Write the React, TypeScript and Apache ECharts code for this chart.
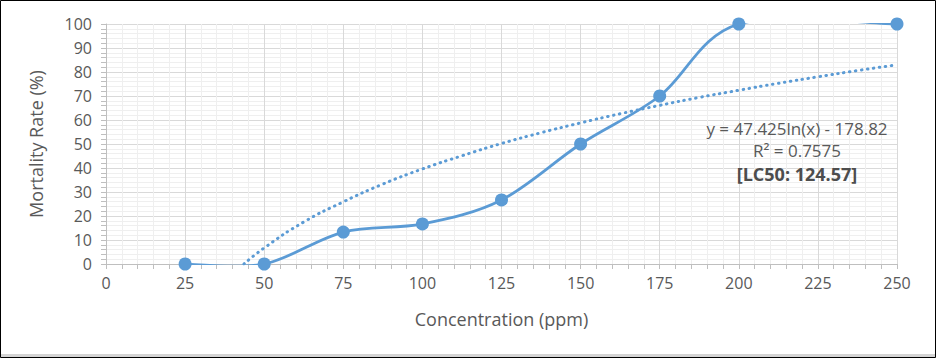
import React, { useEffect, useRef } from "react";
import * as echarts from "echarts";

const concentrations = [25, 50, 75, 100, 125, 150, 175, 200, 250];
const mortality = [0, 0, 13.3, 16.7, 26.7, 50, 70, 100, 100];

const trendX = [43.6, 50, 62.5, 75, 87.5, 100, 112.5, 125, 137.5, 150, 162.5, 175, 187.5, 200, 212.5, 225, 237.5, 250];
const trendY = [0, 6.7, 17.5, 25.9, 33.3, 39.6, 45.1, 50.2, 54.7, 58.8, 62.6, 66.1, 69.4, 72.4, 75.3, 78.0, 80.6, 83.0];

const annotationLines = ["y = 47.425ln(x) - 178.82", "R² = 0.7575", "[LC50: 124.57]"];

const BLUE = "#5B9BD5";
const TEXT = "#595959";
const FONT = "'Open Sans', 'Noto Sans', sans-serif";

export default function App() {
  const ref = useRef<HTMLDivElement>(null);
  useEffect(() => {
    if (!ref.current) return;
    const chart = echarts.init(ref.current, null, { renderer: "svg" });
    const points = concentrations.map((x, i) => [x, mortality[i]]);
    const n = points.length;

    const renderSegment = (params: any, api: any) => {
      const i = params.dataIndex;
      if (i >= n - 1) return null;
      const c = (k: number) => api.coord(points[Math.max(0, Math.min(n - 1, k))]);
      const p0 = c(i - 1);
      const p1 = c(i);
      const p2 = c(i + 1);
      const p3 = c(i + 2);
      const t = 1 / 6;
      const cs = params.coordSys;
      const m = 1;
      return {
        type: "group",
        clipPath: { type: "rect", shape: { x: cs.x - m, y: cs.y - m, width: cs.width + 2 * m, height: cs.height + 2 * m } },
        children: [
          {
            type: "bezierCurve",
            shape: {
              x1: p1[0],
              y1: p1[1],
              cpx1: p1[0] + (p2[0] - p0[0]) * t,
              cpy1: p1[1] + (p2[1] - p0[1]) * t,
              cpx2: p2[0] - (p3[0] - p1[0]) * t,
              cpy2: p2[1] - (p3[1] - p1[1]) * t,
              x2: p2[0],
              y2: p2[1],
            },
            style: { stroke: BLUE, lineWidth: 2.75, fill: "none", lineCap: "round" },
          },
        ],
      };
    };

    chart.setOption({
      animation: false,
      backgroundColor: "#ffffff",
      textStyle: { fontFamily: FONT },
      grid: { left: 106, right: 39, top: 24, bottom: 95, containLabel: false },
      xAxis: {
        type: "value",
        min: 0,
        max: 250,
        interval: 25,
        name: "Concentration (ppm)",
        nameLocation: "middle",
        nameGap: 46,
        nameTextStyle: { color: TEXT, fontSize: 18, fontFamily: FONT },
        axisLine: { show: true, onZero: false, lineStyle: { color: "#BFBFBF", width: 1 } },
        axisTick: { show: true, length: 5, lineStyle: { color: "#BFBFBF" } },
        minorTick: { show: true, splitNumber: 5, length: 5, lineStyle: { color: "#BFBFBF" } },
        axisLabel: { color: TEXT, fontSize: 16, margin: 11, fontFamily: FONT },
        splitLine: { show: true, lineStyle: { color: "#D9D9D9", width: 1 } },
        minorSplitLine: { show: true, lineStyle: { color: "#EFEFEF", width: 1 } },
      },
      yAxis: {
        type: "value",
        min: 0,
        max: 100,
        interval: 10,
        name: "Mortality Rate (%)",
        nameLocation: "middle",
        nameGap: 61,
        nameRotate: 90,
        nameTextStyle: { color: TEXT, fontSize: 18, fontFamily: FONT },
        axisLine: { show: true, lineStyle: { color: "#BFBFBF", width: 1 } },
        axisTick: { show: true, length: 5, lineStyle: { color: "#BFBFBF" } },
        minorTick: { show: true, splitNumber: 5, length: 5, lineStyle: { color: "#BFBFBF" } },
        axisLabel: { color: TEXT, fontSize: 16, margin: 14, fontFamily: FONT },
        splitLine: { show: true, lineStyle: { color: "#D9D9D9", width: 1 } },
        minorSplitLine: { show: true, lineStyle: { color: "#EFEFEF", width: 1 } },
      },
      series: [
        {
          type: "line",
          name: "trend",
          data: trendX.map((x, i) => [x, trendY[i]]),
          smooth: true,
          showSymbol: false,
          symbol: "none",
          lineStyle: { color: BLUE, width: 3, type: [0.5, 5.5], cap: "round" },
          z: 2,
        },
        {
          type: "custom",
          name: "mortality-curve",
          data: points,
          encode: { x: 0, y: 1 },
          renderItem: renderSegment,
          z: 3,
        },
        {
          type: "scatter",
          name: "mortality",
          data: points,
          symbol: "circle",
          symbolSize: 13,
          itemStyle: { color: BLUE, opacity: 1 },
          z: 4,
        },
      ],
      graphic: [
        {
          type: "rect",
          shape: { x: 0.5, y: 0.5, width: 935, height: 357 },
          style: { fill: "none", stroke: "#000000", lineWidth: 1 },
          silent: true,
          z: 100,
        },
        {
          type: "rect",
          shape: { x: 1, y: 354, width: 934, height: 3 },
          style: { fill: "#D4D4D4" },
          silent: true,
          z: 99,
        },
        {
          type: "text",
          x: 797,
          y: 128,
          style: { text: annotationLines[0], fill: TEXT, fontSize: 17, fontFamily: FONT, align: "center", verticalAlign: "middle" },
          z: 50,
        },
        {
          type: "text",
          x: 797,
          y: 150,
          style: { text: annotationLines[1], fill: TEXT, fontSize: 17, fontFamily: FONT, align: "center", verticalAlign: "middle" },
          z: 50,
        },
        {
          type: "text",
          x: 797,
          y: 174,
          style: { text: annotationLines[2], fill: "#4D4D4D", fontSize: 18, fontWeight: "bold", fontFamily: FONT, align: "center", verticalAlign: "middle" },
          z: 50,
        },
      ],
    });
    return () => chart.dispose();
  }, []);
  return (
    <div
      ref={ref}
      style={{ position: "fixed", left: 0, top: 0, width: 936, height: 359, background: "#fff" }}
    />
  );
}
